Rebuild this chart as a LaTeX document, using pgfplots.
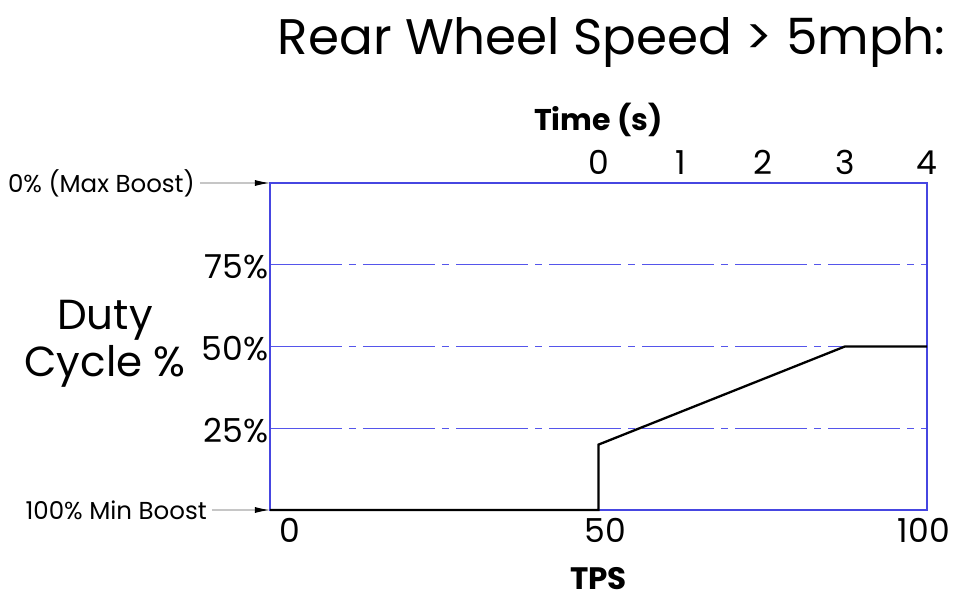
\documentclass[border=0pt]{standalone}
\usepackage{fontspec}
\setmainfont{Poppins}
\usepackage{pgfplots}
\pgfplotsset{compat=1.18}
\usetikzlibrary{arrows.meta}
\definecolor{gridblue}{RGB}{85,85,235}
\definecolor{frameblue}{RGB}{70,70,225}
\begin{document}
\begin{tikzpicture}
\path[use as bounding box] (-270pt,-90pt) rectangle (685pt,510pt);
\begin{axis}[
  at={(0,0)}, anchor=south west,
  scale only axis, width=657pt, height=327pt,
  xmin=0, xmax=100, ymin=0, ymax=100,
  clip=false,
  axis line style={draw=frameblue, line width=1.5pt},
  xtick={3,51,99.5}, xticklabels={0,50,100},
  ytick={25,50,75}, yticklabels={25\%,50\%,75\%},
  major tick length=0pt,
  ymajorgrids,
  grid style={gridblue, line width=1.4pt, dash pattern=on 72pt off 7pt on 7pt off 7pt},
  xticklabel style={font=\fontsize{33}{33}\selectfont, anchor=north, yshift=-5pt},
  yticklabel style={font=\fontsize{33}{33}\selectfont, anchor=east, xshift=2pt, yshift=-2pt},
  xlabel={\bfseries TPS},
  xlabel style={font=\fontsize{31}{31}\selectfont, at={(rel axis cs:0.5,0)}, anchor=base, yshift=-79pt},
  ylabel={Duty\\Cycle \%},
  ylabel style={rotate=-90, align=center, font=\fontsize{42}{47}\selectfont, at={(rel axis cs:0,0.5)}, anchor=center, xshift=-165pt, yshift=3pt},
]
\addplot[black, line width=2.3pt, line join=miter] coordinates {(0,0) (50,0) (50,20) (87.5,50) (100,50)};
\draw[gray!45, line width=1.2pt, -{Latex[length=15pt,width=6pt,color=black]}] ([xshift=-70pt]rel axis cs:0,1) -- (rel axis cs:0,1);
\node[anchor=east, font=\fontsize{24.5}{24.5}\selectfont, inner sep=0pt] at ([xshift=-75pt]rel axis cs:0,1) {0\% (Max Boost)};
\draw[gray!45, line width=1.2pt, -{Latex[length=15pt,width=6pt,color=black]}] ([xshift=-58pt]rel axis cs:0,0) -- (rel axis cs:0,0);
\node[anchor=east, font=\fontsize{24.5}{24.5}\selectfont, inner sep=0pt] at ([xshift=-63pt]rel axis cs:0,0) {100\% Min Boost};
\end{axis}
\begin{axis}[
  at={(0,0)}, anchor=south west,
  scale only axis, width=657pt, height=327pt,
  xmin=-4, xmax=4, ymin=0, ymax=1,
  axis x line*=top, axis y line=none,
  x axis line style={draw=none},
  xtick={0,1,2,3,4}, xticklabels={0,1,2,3,4},
  major tick length=0pt,
  xticklabel style={font=\fontsize{33}{33}\selectfont, anchor=base, yshift=8pt},
  xlabel={\bfseries Time (s)},
  xlabel style={font=\fontsize{30}{30}\selectfont, at={(rel axis cs:0.5,1)}, anchor=base, yshift=52pt},
  title={Rear Wheel Speed > 5mph:},
  title style={font=\fontsize{50}{50}\selectfont, at={(rel axis cs:1,1)}, anchor=base east, xshift=22pt, yshift=122pt},
]
\end{axis}
\end{tikzpicture}
\end{document}
